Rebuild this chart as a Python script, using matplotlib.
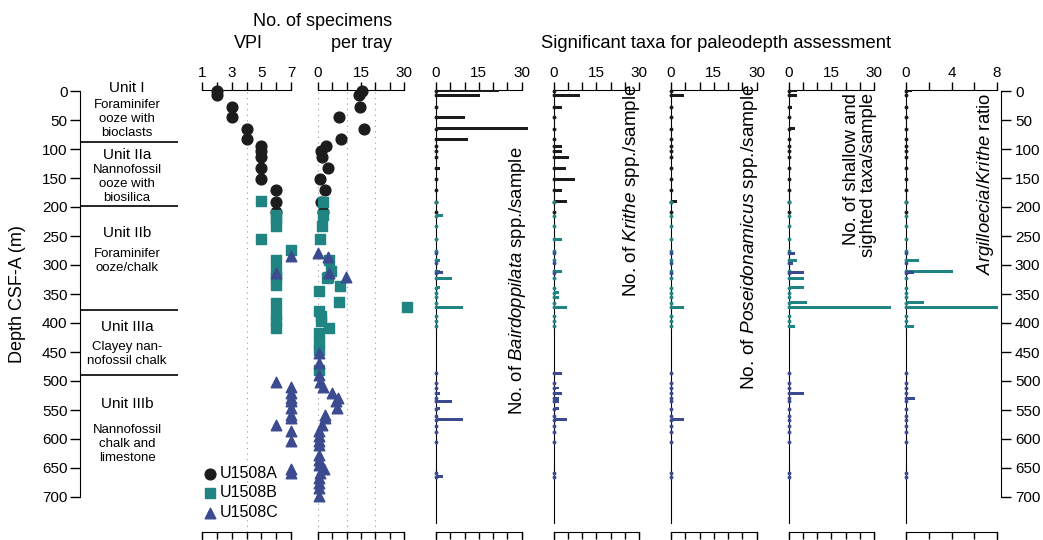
import numpy as np
import matplotlib
matplotlib.use('Agg')
import matplotlib.pyplot as plt

plt.rcParams['font.family'] = ['Liberation Sans', 'DejaVu Sans']
plt.rcParams['mathtext.fontset'] = 'custom'
plt.rcParams['mathtext.rm'] = 'Liberation Sans'
plt.rcParams['mathtext.it'] = 'Liberation Sans:italic'

# hole colors
colA = '#1c1c1c'
colB = '#1f8482'
colC = '#3c4a90'

# lithology units
unit_bounds = [88, 198, 378, 490]
unit_names = ['Unit I', 'Unit IIa', 'Unit IIb', 'Unit IIIa', 'Unit IIIb']
unit_name_depth = [-5, 110, 245, 407, 540]
unit_desc = ['Foraminifer\nooze with\nbioclasts', 'Nannofossil\nooze with\nbiosilica',
             'Foraminifer\nooze/chalk', 'Clayey nan-\nnofossil chalk',
             'Nannofossil\nchalk and\nlimestone']
unit_desc_depth = [48, 160, 293, 453, 609]

# VPI
vpi_a_depth = [0, 7, 28, 45, 65, 83, 95, 104, 114, 133, 152, 171, 191, 208]
vpi_a = [2, 2, 3, 3, 4, 4, 5, 5, 5, 5, 5, 6, 6, 6]
vpi_b_depth = [190, 214, 220, 233, 256, 274, 292, 311, 320, 334, 366, 385, 397, 409]
vpi_b = [5, 6, 6, 6, 5, 7, 6, 6, 6, 6, 6, 6, 6, 6]
vpi_c_depth = [285, 314, 501, 510, 521, 530, 535, 547, 558, 564, 576, 587, 604, 652, 659]
vpi_c = [7, 6, 6, 7, 7, 7, 7, 7, 7, 7, 6, 7, 7, 7, 7]

# specimens per tray
spec_a_depth = vpi_a_depth
spec_a = [15.5, 14.3, 14.5, 7.3, 15.9, 8.1, 2.9, 1.2, 1.5, 3.5, 0.8, 2.6, 1.2, 1.7]
spec_b_depth = [191, 214, 233, 256, 292, 311, 320, 323, 337, 344, 363, 373, 380, 388, 397,
                408, 417, 432, 446, 481]
spec_b = [1.7, 1.7, 1.4, 0.7, 3.8, 4.6, 3.4, 3.1, 7.6, 0.3, 7.2, 31, 0.3, 0.9, 0.9,
          3.8, 0.3, 0.3, 0.3, 0.3]
spec_c_depth = [280, 286, 313, 321, 452, 469, 489, 501, 510, 521, 530, 535, 547, 558, 564,
                576, 587, 595, 604, 610, 627, 636, 645, 652, 659, 668, 676, 684, 699]
spec_c = [0, 3.5, 3.8, 9.9, 0.2, 0.2, 0.2, 0.7, 1.7, 4.9, 7.0, 6.3, 6.7, 2.3, 2.3,
          1.3, 0.5, 0.2, 0.2, 0.2, 0.2, 0.2, 0.2, 2.0, 0.7, 0.2, 0.2, 0.2, 0.2]

# taxa samples per hole
taxa_a_depth = [0, 7, 28, 45, 65, 83, 95, 104, 114, 133, 152, 171, 191, 208]
taxa_b_depth = [191, 215, 233, 256, 275, 292, 311, 323, 339, 348, 356, 365, 373, 388, 397, 406]
taxa_c_depth = [280, 297, 313, 487, 503, 512, 521, 530, 535, 548, 560, 567, 578, 588, 605, 659, 665]

baird_a = [22, 15.4, 0, 10.1, 32.3, 11.3, 0, 0, 0, 1.4, 0, 0, 0, 0]
baird_b = [0, 2.3, 0, 0, 0, 1.4, 1.4, 5.5, 1.4, 0, 0, 0, 9.3, 0, 0, 0]
baird_c = [0, 0, 2.3, 0, 0, 0, 1.4, 0, 5.5, 1.4, 0, 9.3, 0, 0, 0, 0, 2.3]

krithe_a = [0, 9.3, 3, 0, 0, 0, 3, 3, 5.5, 4.3, 7.6, 3, 4.7, 0]
krithe_b = [0, 0, 0, 3, 0, 0, 3, 0, 0, 2, 2, 0, 4.7, 0, 0, 0]
krithe_c = [0, 0, 0, 3, 0, 2, 3, 2, 2, 2, 0, 4.7, 0, 0, 0, 0, 0]

poseid_a = [0, 4.4, 0, 0, 0, 0, 0, 0, 0, 0, 0, 0, 2, 0]
poseid_b = [0, 0, 0, 0, 0, 0, 0, 0, 0, 0, 0, 0, 4.5, 0, 0, 0]
poseid_c = [0, 0, 0, 0, 0, 0, 0, 0, 0, 0, 0, 4.5, 0, 0, 0, 0, 0]

shallow_a = [2.9, 2.9, 1.4, 0, 2.3, 1, 1, 0, 0, 0, 0, 0, 0, 0]
shallow_b = [0, 0, 0, 0, 0, 3, 0, 5.5, 5.5, 0, 0, 6.4, 36, 0, 0, 2.3]
shallow_c = [2.3, 1.5, 5.5, 0, 0, 0, 5.5, 1, 0, 0, 0, 0, 0, 0, 0, 0, 0]

ratio_a = [0.5, 0, 0, 0, 0, 0, 0, 0, 0, 0, 0, 0, 0, 0]
ratio_b = [0, 0, 0, 0, 0, 1.1, 4.1, 0, 0, 0, 0, 1.6, 8.1, 0, 0, 0.7]
ratio_c = [0, 0, 0.7, 0, 0, 0, 0, 0.8, 0, 0, 0, 0, 0, 0, 0, 0, 0]

W, H = 1043, 540
d_top = (90 - 91) / 0.58
d_bot = (532 - 91) / 0.58

def box(x0, x1, y0=90, y1=532):
    return [x0 / W, 1 - y1 / H, (x1 - x0) / W, (y1 - y0) / H]

def top_axis(ax, lo, hi, step, labels):
    ticks = np.arange(lo, hi + step / 2, step)
    ax.set_xlim(lo, hi)
    ax.set_ylim(d_bot, d_top)
    ax.xaxis.tick_top()
    ax.set_xticks(ticks)
    ax.set_xticklabels([str(int(v)) if int(v) in labels else '' for v in ticks])
    ax.tick_params(axis='x', direction='out', length=6, width=1, labelsize=11, pad=1)
    ax.set_yticks([])
    for s in ['left', 'right', 'bottom']:
        ax.spines[s].set_visible(False)
    ax.patch.set_alpha(0)

def bottom_box(x0, x1, lo, hi, step):
    b = fig.add_axes([x0 / W, -0.05, (x1 - x0) / W, 0.05 + 1 - 532 / H])
    b.set_xlim(lo, hi)
    b.set_xticks(np.arange(lo, hi + step / 2, step))
    b.xaxis.tick_top()
    b.tick_params(axis='x', direction='in', length=5, width=1, labeltop=False)
    b.set_yticks([])
    b.spines['bottom'].set_visible(False)

fig = plt.figure(figsize=(W / 100, H / 100), dpi=100)

# lithology column + left depth axis
ax_l = fig.add_axes(box(80, 178))
ax_l.set_xlim(0, 1)
ax_l.set_ylim(d_bot, d_top)
ax_l.set_xticks([])
ax_l.set_yticks(np.arange(0, 701, 50))
ax_l.tick_params(axis='y', direction='out', length=7, width=1, labelsize=11, pad=2)
for s in ['top', 'right', 'bottom']:
    ax_l.spines[s].set_visible(False)
ax_l.spines['left'].set_bounds(0, 700)
ax_l.hlines(unit_bounds, 0, 1, color='k', lw=1.2)
for name, nd, desc, dd in zip(unit_names, unit_name_depth, unit_desc, unit_desc_depth):
    ax_l.text(0.48, nd, name, ha='center', va='center', fontsize=11)
    ax_l.text(0.48, dd, desc, ha='center', va='center', fontsize=9.5, linespacing=1.25)
fig.text(18 / W, 1 - 294 / H, 'Depth CSF-A (m)', rotation=90, ha='center', va='center', fontsize=13)

# VPI
ax_v = fig.add_axes(box(202, 291))
top_axis(ax_v, 1, 7, 1, [1, 3, 5, 7])
ax_v.axvline(4, color='#999999', lw=0.8, ls=(0, (1, 4)))
hA = ax_v.scatter(vpi_a, vpi_a_depth, s=60, marker='o', color=colA, clip_on=False, zorder=3, label='U1508A')
hB = ax_v.scatter(vpi_b, vpi_b_depth, s=50, marker='s', color=colB, clip_on=False, zorder=3, label='U1508B')
hC = ax_v.scatter(vpi_c, vpi_c_depth, s=58, marker='^', color=colC, clip_on=False, zorder=3, label='U1508C')
ax_v.legend(handles=[hA, hB, hC], loc='upper left', bbox_to_anchor=(204 / W, 1 - 466 / H),
            bbox_transform=fig.transFigure, frameon=False, fontsize=11.5, handlelength=0.8,
            handletextpad=0.2, labelspacing=0.28, borderpad=0, borderaxespad=0)

# specimens per tray
ax_s = fig.add_axes(box(318, 404))
top_axis(ax_s, 0, 30, 5, [0, 15, 30])
for xv in [0, 10, 20, 30]:
    ax_s.axvline(xv, color='#999999', lw=0.8, ls=(0, (1, 4)))
ax_s.scatter(spec_a, spec_a_depth, s=60, marker='o', color=colA, clip_on=False, zorder=3)
ax_s.scatter(spec_b, spec_b_depth, s=50, marker='s', color=colB, clip_on=False, zorder=3)
ax_s.scatter(spec_c, spec_c_depth, s=58, marker='^', color=colC, clip_on=False, zorder=3)

# significant taxa panels
panels = [
    (436, 521.5, 30, [baird_a, baird_b, baird_c]),
    (553.5, 639, 30, [krithe_a, krithe_b, krithe_c]),
    (671, 756.5, 30, [poseid_a, poseid_b, poseid_c]),
    (788.5, 874, 30, [shallow_a, shallow_b, shallow_c]),
    (906, 997, 8, [ratio_a, ratio_b, ratio_c]),
]
for x0, x1, hi, vals in panels:
    ax = fig.add_axes(box(x0, x1))
    if hi == 8:
        top_axis(ax, 0, 8, 2, [0, 4, 8])
    else:
        top_axis(ax, 0, 30, 5, [0, 15, 30])
    ax.spines['left'].set_visible(True)
    ax.spines['left'].set_bounds(d_top, (523 - 91) / 0.58)
    for dep, v, c in zip([taxa_a_depth, taxa_b_depth, taxa_c_depth], vals, [colA, colB, colC]):
        ax.barh(dep, v, height=5, color=c, clip_on=False, zorder=3)
        ax.plot(np.zeros(len(dep)), dep, 'o', ms=2.8, color=c, mec='none', clip_on=False, zorder=3)

# right depth axis
ax_r = fig.add_axes(box(1000, 1001))
ax_r.set_ylim(d_bot, d_top)
ax_r.set_xticks([])
ax_r.yaxis.tick_right()
ax_r.set_yticks(np.arange(0, 701, 50))
ax_r.tick_params(axis='y', direction='out', length=7, width=1, labelsize=11, pad=3)
for s in ['top', 'left', 'bottom']:
    ax_r.spines[s].set_visible(False)
ax_r.spines['right'].set_bounds(0, 700)
ax_r.patch.set_alpha(0)

# cut-off row of panels below
bottom_box(202, 291, 1, 7, 1)
bottom_box(318, 404, 0, 30, 5)
for x0, x1, hi, vals in panels:
    bottom_box(x0, x1, 0, hi, 2 if hi == 8 else 5)

# titles and rotated labels
fig.text(248 / W, 1 - 44 / H, 'VPI', ha='center', va='center', fontsize=13)
fig.text(392 / W, 1 - 22 / H, 'No. of specimens', ha='right', va='center', fontsize=13)
fig.text(392 / W, 1 - 44 / H, 'per tray', ha='right', va='center', fontsize=13)
fig.text(716 / W, 1 - 44 / H, 'Significant taxa for paleodepth assessment', ha='center', va='center', fontsize=13.2)
fig.text(517 / W, 1 - 415 / H, r'No. of $\mathit{Bairdoppilata}$ spp./sample', rotation=90,
         ha='center', va='bottom', fontsize=13.3)
fig.text(632 / W, 1 - 84 / H, r'No. of $\mathit{Krithe}$ spp./sample', rotation=90,
         ha='center', va='top', fontsize=13.6)
fig.text(750 / W, 1 - 84 / H, r'No. of $\mathit{Poseidonamicus}$ spp./sample', rotation=90,
         ha='center', va='top', fontsize=13.8)
fig.text(860 / W, 1 - 93 / H, 'No. of shallow and\nsighted taxa/sample', rotation=90,
         ha='center', va='top', multialignment='right', fontsize=13.3, linespacing=1.0)
fig.text(986 / W, 1 - 93 / H, r'$\mathit{Argilloecia/Krithe}$ ratio', rotation=90,
         ha='center', va='top', fontsize=13.3)

fig.savefig('out.png', dpi=100)
